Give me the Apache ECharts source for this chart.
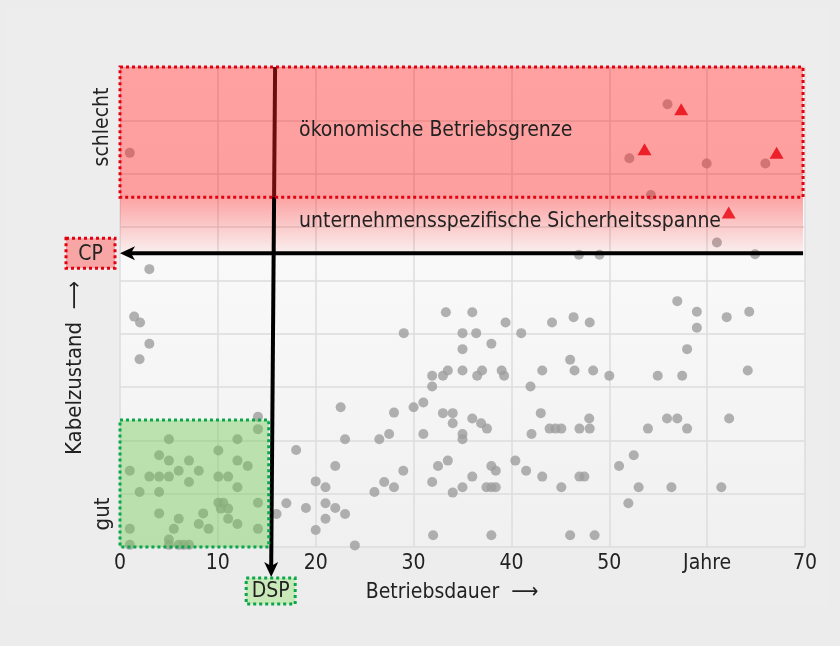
<!DOCTYPE html>
<html><head><meta charset="utf-8">
<script src="https://cdn.jsdelivr.net/npm/echarts@6/dist/echarts.min.js"></script>
<style>html,body{margin:0;padding:0;background:#e6e6e6;}#c{width:840px;height:646px;}</style>
</head><body><div id="c"></div>
<script>
// ---- data ----
const xTickLabels = ['0', '10', '20', '30', '40', '50', 'Jahre', '70'];
const yCategoryLabels = ['gut', 'schlecht'];
const greyPoints = [
  [14.1,2.44],[14.1,2.21],[5.0,2.02],[12.0,2.02],[10.05,1.81],[4.0,1.72],[5.0,1.62],[7.05,1.62],[12.0,1.62],[13.05,1.52],
  [1.0,1.43],[6.0,1.43],[8.05,1.43],[3.0,1.32],[4.0,1.32],[5.0,1.32],[10.05,1.32],[11.05,1.32],[7.05,1.22],[12.0,1.12],
  [2.0,1.03],[4.0,1.03],[14.1,0.83],[10.05,0.83],[10.55,0.83],[10.3,0.72],[11.05,0.72],[4.0,0.63],[8.5,0.63],[6.0,0.53],
  [11.05,0.53],[8.05,0.43],[12.0,0.43],[5.5,0.34],[9.05,0.34],[1.0,0.34],[14.1,0.34],[5.0,0.14],[1.0,0.04],[5.0,0.04],
  [6.0,0.04],[6.5,0.04],[7.05,0.04],
  [3.0,5.21],[1.45,4.32],[2.05,4.21],[3.0,3.81],[2.0,3.52],
  [22.55,2.62],[28.0,2.52],[30.0,2.62],[31.0,2.71],[23.0,2.02],[26.5,2.02],[27.5,2.12],[31.0,2.12],[18.0,1.82],[22.0,1.52],
  [28.95,1.43],[20.0,1.23],[21.0,1.12],[27.0,1.22],[28.0,1.12],[26.0,1.03],[17.0,0.82],[16.0,0.62],[19.0,0.73],[21.0,0.82],
  [22.0,0.73],[23.0,0.62],[21.0,0.53],[20.0,0.32],[24.0,0.03],
  [33.3,4.40],[36.0,4.40],[39.4,4.21],[44.15,4.21],[29.0,4.01],[35.0,4.01],[36.4,4.01],[41.0,4.01],[37.95,3.81],[35.0,3.71],
  [31.9,3.21],[33.0,3.21],[33.5,3.31],[35.0,3.31],[36.5,3.21],[37.0,3.31],[39.0,3.31],[39.25,3.21],[43.15,3.31],[31.9,3.01],
  [41.95,3.01],[33.0,2.51],[34.0,2.51],[34.0,2.32],[36.0,2.41],[36.9,2.32],[37.5,2.22],[35.0,2.12],[35.0,2.02],[43.0,2.51],
  [43.9,2.22],[44.5,2.22],[45.1,2.22],[42.05,2.12],[33.5,1.62],[32.5,1.52],[37.95,1.52],[38.4,1.43],[40.4,1.62],[41.5,1.43],
  [43.15,1.32],[36.0,1.32],[31.9,1.22],[35.0,1.12],[34.0,1.02],[37.45,1.12],[37.95,1.12],[38.4,1.12],[32.0,0.22],[37.95,0.22],
  [56.95,4.61],[58.95,4.41],[62.0,4.31],[64.3,4.41],[58.95,4.11],[46.35,4.31],[48.0,4.21],[57.95,3.71],[46.0,3.51],[46.45,3.31],
  [48.35,3.31],[50.0,3.21],[54.95,3.21],[57.45,3.21],[64.15,3.31],[47.95,2.41],[55.9,2.41],[56.95,2.41],[62.25,2.41],[46.95,2.22],
  [48.0,2.22],[53.95,2.22],[57.95,2.22],[52.5,1.72],[51.0,1.52],[46.95,1.32],[47.45,1.32],[45.1,1.12],[53.0,1.12],[56.35,1.12],
  [61.45,1.12],[51.95,0.82],[46.0,0.22],[48.5,0.22],
  [46.9,5.48],[49.0,5.48],[64.9,5.49],[61.0,5.71],
  [1.0,7.39],[55.95,8.30],[52.05,7.29],[59.95,7.19],[65.95,7.19],[54.25,6.60]
];
const redTriangles = [[57.35,8.21],[53.6,7.46],[67.1,7.39],[62.2,6.27]];
const cpLevel = 5.51;          // CP threshold (condition)
const redZoneBottom = 6.56;    // lower edge of "ökonomische Betriebsgrenze"
const conditionMax = 9;
const ageMax = 70;
const dspTop = 15.85, dspBottom = 15.45;   // DSP line (age), slightly slanted as drawn
const greenZone = [15.2, 2.38];            // [age, condition] of the green box
const annotationTexts = ['ökonomische Betriebsgrenze', 'unternehmensspezifische Sicherheitsspanne'];

// ---- chart ----
const FONT = "'DejaVu Sans Condensed', 'Noto Sans', sans-serif";
const chart = echarts.init(document.getElementById('c'), null, {renderer: 'canvas'});
const LG = (c0, c1) => new echarts.graphic.LinearGradient(0, 0, 0, 1, [{offset: 0, color: c0}, {offset: 1, color: c1}]);

function rectSeries(box, style, z) {
  return {
    type: 'custom', z, silent: true, clip: false, animation: false,
    data: [box],
    renderItem: (params, api) => {
      const a = api.coord([api.value(0), api.value(3)]);
      const b = api.coord([api.value(2), api.value(1)]);
      return {type: 'rect', shape: {x: a[0], y: a[1], width: b[0] - a[0], height: b[1] - a[1]}, style};
    }
  };
}

const option = {
  backgroundColor: '#ececec',
  animation: false,
  grid: {left: 120, right: 35, top: 67, bottom: 99, show: true, borderWidth: 0,
         backgroundColor: LG('#ffffff', '#f0f0f0')},
  xAxis: {
    type: 'value', min: 0, max: ageMax, interval: 10,
    axisLine: {show: false}, axisTick: {show: false},
    axisLabel: {margin: 6, color: '#222', fontSize: 21, fontFamily: FONT,
                formatter: (v) => xTickLabels[Math.round(v / 10)]},
    splitLine: {show: true, lineStyle: {color: '#dcdcdc', width: 1.5}}
  },
  yAxis: {
    type: 'value', min: 0, max: conditionMax, interval: 1,
    axisLine: {show: false}, axisTick: {show: false}, axisLabel: {show: false},
    splitLine: {show: true, lineStyle: {color: '#dcdcdc', width: 1.5}}
  },
  graphic: [
    {type: 'rect', z: -10, shape: {x: 6, y: 7, width: 822, height: 598}, style: {fill: '#ededed'}, silent: true},
    {type: 'text', x: 452, y: 593, style: {text: 'Betriebsdauer  ⟶', font: '21px ' + FONT, fill: '#222', align: 'center', verticalAlign: 'middle'}},
    {type: 'text', x: 75, y: 368, rotation: Math.PI / 2, style: {text: 'Kabelzustand  ⟶', font: '22px ' + FONT, fill: '#222', align: 'center', verticalAlign: 'middle'}},
    {type: 'text', x: 103, y: 127, rotation: Math.PI / 2, style: {text: yCategoryLabels[1], font: '21px ' + FONT, fill: '#222', align: 'center', verticalAlign: 'middle'}},
    {type: 'text', x: 103, y: 514, rotation: Math.PI / 2, style: {text: yCategoryLabels[0], font: '22px ' + FONT, fill: '#222', align: 'center', verticalAlign: 'middle'}}
  ],
  series: [
    {type: 'scatter', z: 2, data: greyPoints, symbolSize: 10, itemStyle: {color: '#9e9e9e'}, silent: true},
    // safety margin gradient
    rectSeries([0, cpLevel, ageMax - 0.2, redZoneBottom], {fill: LG('rgba(255,40,40,0.42)', 'rgba(255,40,40,0.05)')}, 3),
    // DSP vertical line with arrow
    {
      type: 'custom', z: 4, silent: true, clip: false, data: [[dspTop, conditionMax, dspBottom, 0]],
      renderItem: (params, api) => {
        const t = api.coord([api.value(0), api.value(1)]);
        const b = api.coord([api.value(2), api.value(3)]);
        const tipY = b[1] + 30;
        return {type: 'group', children: [
          {type: 'line', shape: {x1: t[0], y1: t[1], x2: b[0], y2: tipY - 10}, style: {stroke: '#000', lineWidth: 4}},
          {type: 'polygon', shape: {points: [[b[0], tipY], [b[0] - 7, tipY - 15], [b[0], tipY - 11], [b[0] + 7, tipY - 15]]}, style: {fill: '#000'}}
        ]};
      }
    },
    // red economic limit zone
    rectSeries([0, redZoneBottom, ageMax - 0.2, conditionMax], {fill: 'rgba(255,30,30,0.42)', stroke: '#e3000f', lineWidth: 3, lineDash: [3, 3]}, 5),
    // green zone
    rectSeries([0, 0, greenZone[0], greenZone[1]], {fill: 'rgba(110,200,80,0.42)', stroke: '#0aa64a', lineWidth: 3, lineDash: [3, 3]}, 5),
    // CP horizontal line with arrow
    {
      type: 'custom', z: 6, silent: true, clip: false, data: [[ageMax - 0.2, cpLevel, 0]],
      renderItem: (params, api) => {
        const r = api.coord([api.value(0), api.value(1)]);
        const l = api.coord([api.value(2), api.value(1)]);
        const y = r[1];
        return {type: 'group', children: [
          {type: 'line', shape: {x1: r[0], y1: y, x2: l[0] + 10, y2: y}, style: {stroke: '#000', lineWidth: 4}},
          {type: 'polygon', shape: {points: [[l[0], y], [l[0] + 15, y - 7], [l[0] + 11, y], [l[0] + 15, y + 7]]}, style: {fill: '#000'}}
        ]};
      }
    },
    {type: 'scatter', z: 7, data: redTriangles, symbol: 'triangle', symbolSize: [14, 12], itemStyle: {color: '#e8000d'}, silent: true},
    // annotation texts and threshold labels
    {
      type: 'custom', z: 8, silent: true, clip: false, data: [[0, cpLevel, dspBottom]],
      renderItem: (params, api) => {
        const cp = api.coord([api.value(0), api.value(1)]);
        const dsp = api.coord([api.value(2), 0]);
        const t1 = api.coord([18.3, 7.8]);
        const t2 = api.coord([18.3, 6.11]);
        return {type: 'group', children: [
          {type: 'text', x: t1[0], y: t1[1], style: {text: annotationTexts[0], font: '21px ' + FONT, fill: '#222', align: 'left', verticalAlign: 'middle'}},
          {type: 'text', x: t2[0], y: t2[1], style: {text: annotationTexts[1], font: '21px ' + FONT, fill: '#222', align: 'left', verticalAlign: 'middle'}},
          {type: 'rect', shape: {x: cp[0] - 54, y: cp[1] - 15, width: 49, height: 30}, style: {fill: '#f7a5a5', stroke: '#e3000f', lineWidth: 3, lineDash: [3, 3]}},
          {type: 'text', x: cp[0] - 29.5, y: cp[1] + 1, style: {text: 'CP', font: '21px ' + FONT, fill: '#222', align: 'center', verticalAlign: 'middle'}},
          {type: 'rect', shape: {x: dsp[0] - 25, y: dsp[1] + 31, width: 49, height: 26}, style: {fill: '#c9e9b9', stroke: '#0aa64a', lineWidth: 3, lineDash: [3, 3]}},
          {type: 'text', x: dsp[0] - 0.5, y: dsp[1] + 45, style: {text: 'DSP', font: '21px ' + FONT, fill: '#222', align: 'center', verticalAlign: 'middle'}}
        ]};
      }
    }
  ]
};
chart.setOption(option);
</script>
</body></html>
